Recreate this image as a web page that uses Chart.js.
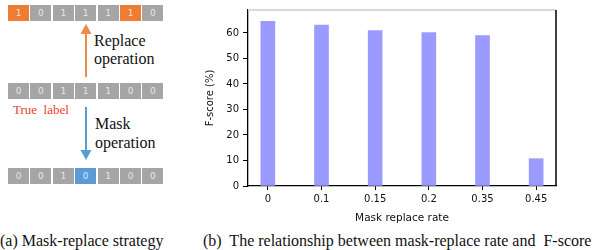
<!DOCTYPE html>
<html>
<head>
<meta charset="utf-8">
<script src="https://cdn.jsdelivr.net/npm/chart.js@4.4.0/dist/chart.umd.min.js"></script>
<style>
  body { margin: 0; width: 598px; height: 250px; background: #fff; position: relative; overflow: hidden; }
  .row { position: absolute; left: 8px; height: 16px; }
  .cell { position: absolute; top: 0; width: 21px; height: 16px; background: #a5a5a5; color: #e6e6e6;
          font: 9px "DejaVu Sans", sans-serif; text-align: center; line-height: 16px; }
  .cell.orange { background: #ed7d31; color: #fbe3d3; }
  .cell.blue { background: #5b9bd5; color: #dce9f6; }
  .serif { position: absolute; font-family: "Liberation Serif", "Times New Roman", Tinos, "DejaVu Serif", serif;
           color: #111; white-space: pre; }
  #chartBox { position: absolute; left: 200px; top: 0; width: 398px; height: 225px; }
</style>
</head>
<body>

<div class="row" id="rowReplace" style="top:5px"></div>
<div class="row" id="rowTrue" style="top:83px"></div>
<div class="row" id="rowMask" style="top:168px"></div>

<svg style="position:absolute;left:0;top:0" width="200" height="225">
  <line x1="86" y1="77" x2="86" y2="32" stroke="#f08a4b" stroke-width="2"/>
  <polygon points="80.5,34 91.5,34 86,24" fill="#f08a4b"/>
  <line x1="86" y1="107" x2="86" y2="152" stroke="#5b9bd5" stroke-width="2"/>
  <polygon points="80.5,150 91.5,150 86,160" fill="#5b9bd5"/>
</svg>

<div class="serif" style="left:94px;top:32px;font-size:16px;line-height:18px">Replace
operation</div>
<div class="serif" style="left:13px;top:102px;font-size:13px;color:#f03c2e">True  label</div>
<div class="serif" style="left:95px;top:114px;font-size:16px;line-height:19px">Mask
operation</div>

<div class="serif" style="left:0;top:232px;font-size:16px">(a) Mask-replace strategy</div>
<div class="serif" style="left:203px;top:232px;font-size:16px">(b)  The relationship between mask-replace rate and  F-score</div>

<div id="chartBox"><canvas id="scoreChart"></canvas></div>

<script>
// diagram rows
const replaceBits = [1, 0, 1, 1, 1, 1, 0];
const trueBits = [0, 0, 1, 1, 1, 0, 0];
const maskBits = [0, 0, 1, 0, 1, 0, 0];
const replacedAt = [0, 5];
const maskedAt = [3];

// chart data
const rateLabels = ['0', '0.1', '0.15', '0.2', '0.35', '0.45'];
const fScores = [64.6, 63.1, 60.9, 60.1, 59.0, 10.7];
const yTicks = [0, 10, 20, 30, 40, 50, 60];

function fillRow(id, bits, marked, cls) {
  const row = document.getElementById(id);
  bits.forEach(function (b, i) {
    const cell = document.createElement('div');
    cell.className = 'cell' + (marked.indexOf(i) >= 0 ? ' ' + cls : '');
    cell.style.left = (i * 22.4) + 'px';
    cell.textContent = b;
    row.appendChild(cell);
  });
}
fillRow('rowReplace', replaceBits, replacedAt, 'orange');
fillRow('rowTrue', trueBits, [], '');
fillRow('rowMask', maskBits, maskedAt, 'blue');

const framePlugin = {
  id: 'frame',
  afterDraw(chart) {
    const a = chart.chartArea;
    const ctx = chart.ctx;
    ctx.save();
    ctx.lineWidth = 2;
    ctx.strokeStyle = '#d9d9d9';
    ctx.beginPath();
    ctx.moveTo(a.left, a.top);
    ctx.lineTo(a.right, a.top);
    ctx.stroke();
    ctx.lineWidth = 1.5;
    ctx.strokeStyle = '#000';
    ctx.beginPath();
    ctx.moveTo(a.right, a.top);
    ctx.lineTo(a.right, a.bottom);
    ctx.stroke();
    ctx.restore();
  }
};

const tickFont = { family: 'DejaVu Sans', size: 10 };

new Chart(document.getElementById('scoreChart'), {
  type: 'bar',
  data: {
    datasets: [{
      data: fScores.map((v, i) => ({ x: i, y: v })),
      backgroundColor: '#9b9bff',
      barThickness: 14
    }]
  },
  options: {
    responsive: true,
    maintainAspectRatio: false,
    animation: false,
    layout: { padding: { top: 2, right: 42, left: 0, bottom: 0 } },
    plugins: { legend: { display: false }, tooltip: { enabled: false } },
    scales: {
      x: {
        type: 'linear',
        offset: false,
        min: -0.37,
        max: 5.37,
        afterBuildTicks: (scale) => { scale.ticks = rateLabels.map((l, i) => ({ value: i })); },
        afterFit: (scale) => { scale.height = 39; },
        ticks: {
          color: '#111',
          font: tickFont,
          padding: 3,
          maxRotation: 0,
          callback: (v) => rateLabels[v]
        },
        grid: { offset: false, drawOnChartArea: false, drawTicks: true, tickLength: 4, color: '#000' },
        border: { color: '#000', width: 1.3 },
        title: { display: true, text: 'Mask replace rate', color: '#111', font: { family: 'DejaVu Sans', size: 10.5 }, padding: { top: 1, bottom: 0 } }
      },
      y: {
        min: 0,
        max: 69,
        afterBuildTicks: (scale) => { scale.ticks = yTicks.map(v => ({ value: v })); },
        afterFit: (scale) => { scale.width = 48; },
        ticks: { color: '#111', font: tickFont, padding: 4 },
        grid: { drawOnChartArea: false, drawTicks: true, tickLength: 5, color: '#000' },
        border: { color: '#000', width: 1.3 },
        title: { display: true, text: 'F-score (%)', color: '#111', font: { family: 'DejaVu Sans', size: 10 }, padding: { top: 4, bottom: 2 } }
      }
    }
  },
  plugins: [framePlugin]
});
</script>
</body>
</html>
